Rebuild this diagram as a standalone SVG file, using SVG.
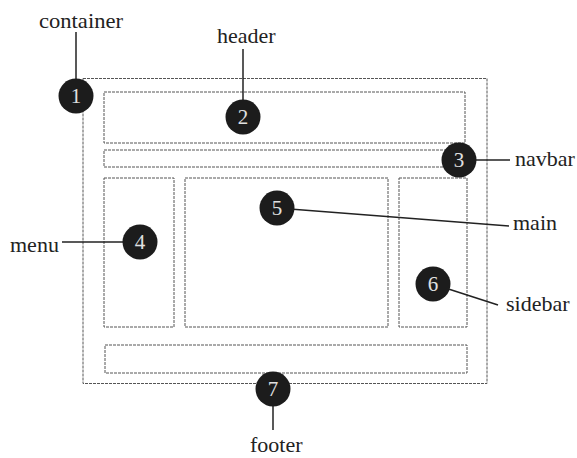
<svg xmlns="http://www.w3.org/2000/svg" width="577" height="458" viewBox="0 0 577 458">
<style>
.box{fill:none;stroke:#555;stroke-width:1;stroke-dasharray:3 1}
.lead{fill:none;stroke:#222;stroke-width:1.5}
.dot{fill:#1c1c1c}
.num{font-size:21px;fill:#e0e0e0;text-anchor:middle}
.lbl{font-size:22px;fill:#222}
</style>
<rect width="577" height="458" fill="#fff"/>
<g id="container"><rect class="box" x="83" y="78.5" width="404" height="305"/></g>
<g id="header"><rect class="box" x="104" y="92" width="361" height="51"/></g>
<g id="navbar"><rect class="box" x="104" y="150" width="363" height="17"/></g>
<g id="menu"><rect class="box" x="104" y="178" width="70" height="149"/></g>
<g id="main"><rect class="box" x="185" y="178" width="203" height="149"/></g>
<g id="sidebar"><rect class="box" x="399" y="178" width="68" height="149"/></g>
<g id="footer"><rect class="box" x="105" y="345" width="362" height="28"/></g>
<g id="connectors">
<line class="lead" x1="76" y1="32" x2="76" y2="90"/>
<line class="lead" x1="243" y1="49" x2="243" y2="110"/>
<line class="lead" x1="470" y1="160" x2="510" y2="160"/>
<line class="lead" x1="62" y1="242" x2="130" y2="242"/>
<line class="lead" x1="277" y1="208" x2="509" y2="226"/>
<line class="lead" x1="433" y1="284" x2="498" y2="305"/>
<line class="lead" x1="273" y1="395" x2="273" y2="430"/>
</g>
<g font-family="'Liberation Serif', 'Times New Roman', 'DejaVu Serif', serif">
<g id="m1"><circle class="dot" cx="76" cy="96" r="17.5"/><text class="num" x="76" y="103">1</text></g>
<g id="m2"><circle class="dot" cx="243" cy="117" r="17.5"/><text class="num" x="243" y="124">2</text></g>
<g id="m3"><circle class="dot" cx="459" cy="160" r="17.5"/><text class="num" x="459" y="167">3</text></g>
<g id="m4"><circle class="dot" cx="140" cy="242" r="17.5"/><text class="num" x="140" y="249">4</text></g>
<g id="m5"><circle class="dot" cx="277" cy="208" r="17.5"/><text class="num" x="277" y="215">5</text></g>
<g id="m6"><circle class="dot" cx="433" cy="284" r="17.5"/><text class="num" x="433" y="291">6</text></g>
<g id="m7"><circle class="dot" cx="273" cy="389" r="17.5"/><text class="num" x="273" y="396">7</text></g>
<g id="labels">
<text class="lbl" x="39" y="28" textLength="84" lengthAdjust="spacingAndGlyphs">container</text>
<text class="lbl" x="217" y="43">header</text>
<text class="lbl" x="515" y="166">navbar</text>
<text class="lbl" x="513" y="230">main</text>
<text class="lbl" x="506" y="311">sidebar</text>
<text class="lbl" x="10" y="252">menu</text>
<text class="lbl" x="250" y="452">footer</text>
</g>
</g>
</svg>
